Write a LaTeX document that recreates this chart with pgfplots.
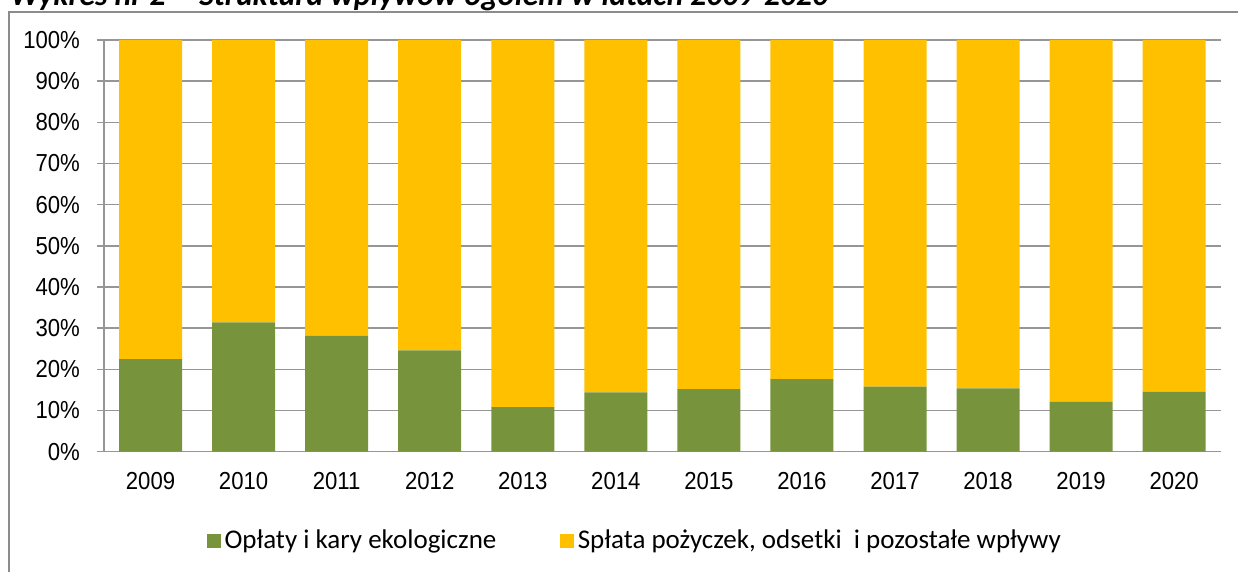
\documentclass[border=0pt]{standalone}
\usepackage{fontspec}
\setmainfont{Liberation Sans}[FakeStretch=0.9]
\newfontfamily\calibrifont{Carlito}
\usepackage{pgfplots}
\pgfplotsset{compat=1.18}
\definecolor{oplaty}{HTML}{77933C}
\definecolor{splata}{HTML}{FFC000}
\definecolor{gridgray}{HTML}{969696}
\definecolor{framegray}{HTML}{8C8C8C}

\begin{document}
\begin{tikzpicture}
\useasboundingbox (0,0) rectangle (619pt,286pt);
\clip (0,0) rectangle (619pt,286pt);
% title, cut off at the top edge as in the source, and the outer frame
\node[anchor=base west, inner sep=0pt, font=\calibrifont\bfseries\itshape\fontsize{15.8}{17}\selectfont]
  at (5pt,283pt) {Wykres nr 2 -- Struktura wpływów ogółem w latach 2009-2020};
\draw[framegray, line width=0.75pt] (4.5pt,-10pt) rectangle (640pt,280pt);

\begin{axis}[
    at={(52pt,60.15pt)}, anchor=south west,
    scale only axis,
    width=558.35pt, height=205.85pt,
    ybar stacked,
    bar width=31.5pt,
    xmin=-0.5, xmax=11.5,
    ymin=0, ymax=100,
    xtick={0,...,11},
    xticklabels={2009,2010,2011,2012,2013,2014,2015,2016,2017,2018,2019,2020},
    minor xtick={-0.5,0.5,...,11.5},
    ytick={0,10,...,100},
    yticklabel={\pgfmathprintnumber{\tick}\%},
    /pgf/number format/assume math mode=true,
    ticklabel style={font=\fontsize{12.3}{14}\selectfont},
    xtick style={draw=none},
    minor x tick style={gridgray, line width=0.75pt},
    minor tick length=4pt,
    ytick style={gridgray, line width=0.75pt},
    major tick length=3.5pt,
    tick align=outside,
    ymajorgrids=true,
    grid style={gridgray, line width=0.75pt},
    axis x line*=bottom,
    axis y line*=left,
    axis line style={gridgray, line width=0.75pt, -},
    xticklabel style={yshift=-3.5pt},
    yticklabel style={xshift=-5pt},
    legend style={at={(0.4764,-0.2162)}, anchor=center, draw=none,
        font=\calibrifont\fontsize{13.5}{15}\selectfont, legend columns=2,
        /tikz/every even column/.append style={column sep=30pt}},
    legend image code/.code={\fill[#1] (0pt,-3.4pt) rectangle (6.75pt,3.4pt);},
]
\addplot[fill=oplaty, draw=none] coordinates {
    (0,22.5) (1,31.4) (2,28.2) (3,24.6) (4,10.8) (5,14.4)
    (6,15.2) (7,17.6) (8,15.8) (9,15.4) (10,12.1) (11,14.6)
};
\addplot[fill=splata, draw=none] coordinates {
    (0,77.5) (1,68.6) (2,71.8) (3,75.4) (4,89.2) (5,85.6)
    (6,84.8) (7,82.4) (8,84.2) (9,84.6) (10,87.9) (11,85.4)
};
\legend{Opłaty i kary ekologiczne, {Spłata pożyczek, odsetki\ \ i pozostałe wpływy}}
\end{axis}
\end{tikzpicture}
\end{document}
